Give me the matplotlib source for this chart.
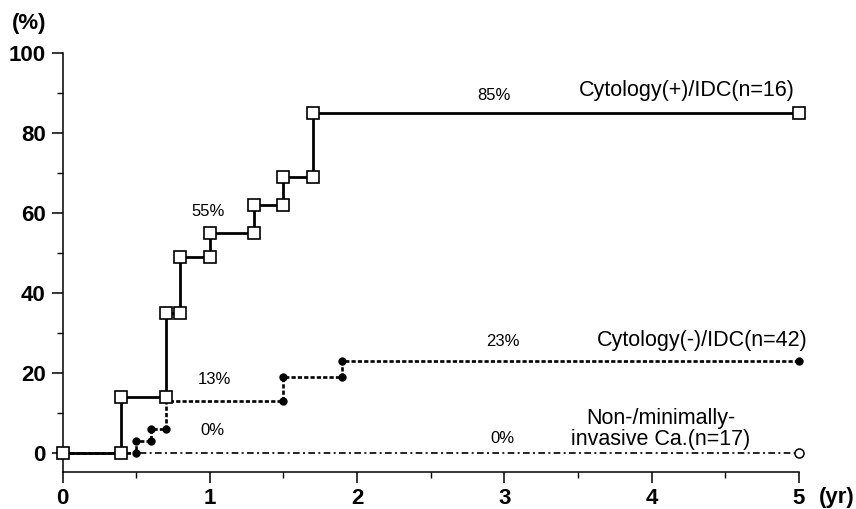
import matplotlib
matplotlib.use("Agg")
import matplotlib.pyplot as plt
from matplotlib.ticker import MultipleLocator

plt.rcParams['font.family'] = ['Liberation Sans', 'DejaVu Sans']

# cumulative incidence (%) step curves, years
pos_t = [0, 0.4, 0.4, 0.7, 0.7, 0.8, 0.8, 1.0, 1.0, 1.3, 1.3, 1.5, 1.5, 1.7, 1.7, 5]
pos_y = [0, 0, 14, 14, 35, 35, 49, 49, 55, 55, 62, 62, 69, 69, 85, 85]

neg_t = [0, 0.5, 0.5, 0.6, 0.6, 0.7, 0.7, 1.5, 1.5, 1.9, 1.9, 5]
neg_y = [0, 0, 3, 3, 6, 6, 13, 13, 19, 19, 23, 23]
neg_marks = [1, 2, 3, 4, 5, 7, 8, 9, 10, 11]

non_t = [0, 5]
non_y = [0, 0]

labels = ["Cytology(+)/IDC(n=16)", "Cytology(-)/IDC(n=42)",
          "Non-/minimally-\ninvasive Ca.(n=17)"]

fig = plt.figure(figsize=(8.56, 5.09), dpi=100)
ax = fig.add_axes([62.5 / 856, 1 - 471.7 / 509, (799 - 62.5) / 856, (471.7 - 53.3) / 509])

ax.plot(non_t, non_y, color='black', lw=1.2, ls=(0, (4, 2, 1.2, 2)), zorder=2, clip_on=False)
ax.plot([5], [0], 'o', ms=6.5, mfc='white', mec='black', mew=1.1, zorder=5, clip_on=False)

ax.plot(neg_t, neg_y, color='black', lw=1.9, ls=(0, (1.6, 0.8)), marker='o', ms=5,
        markevery=neg_marks, mfc='black', mec='black', zorder=3, clip_on=False)

ax.plot(pos_t, pos_y, color='black', lw=2.0, marker='s', ms=8, mfc='white', mec='black',
        mew=1.2, zorder=4, clip_on=False)

ax.set_xlim(0, 5)
ax.set_ylim(-4.7, 100)
for s in ['top', 'right']:
    ax.spines[s].set_visible(False)
for s in ['left', 'bottom']:
    ax.spines[s].set_linewidth(1.1)

ax.xaxis.set_major_locator(MultipleLocator(1))
ax.xaxis.set_minor_locator(MultipleLocator(0.5))
ax.set_yticks([0, 20, 40, 60, 80, 100])
ax.yaxis.set_minor_locator(MultipleLocator(10))
ax.tick_params(which='major', direction='out', length=8, width=1.1, pad=4, labelsize=16)
ax.tick_params(which='minor', direction='out', length=4, width=1.0)
for lab in ax.get_xticklabels() + ax.get_yticklabels():
    lab.set_fontweight('bold')
ax.set_ylim(-4.7, 100)

fig.text(12 / 856, 1 - 23 / 509, "(%)", fontsize=16, fontweight='bold', va='center', ha='left')
fig.text(819 / 856, 1 - 497 / 509, "(yr)", fontsize=16, fontweight='bold', va='center', ha='left')

ax.text(2.93, 89.5, "85%", fontsize=12, ha='center', va='center')
ax.text(0.99, 60.5, "55%", fontsize=12, ha='center', va='center')
ax.text(1.03, 18.3, "13%", fontsize=12, ha='center', va='center')
ax.text(1.02, 5.6, "0%", fontsize=12, ha='center', va='center')
ax.text(2.99, 27.8, "23%", fontsize=12, ha='center', va='center')
ax.text(2.99, 3.7, "0%", fontsize=12, ha='center', va='center')

ax.text(4.24, 90.75, labels[0], fontsize=15.5, ha='center', va='center')
ax.text(4.34, 28.2, labels[1], fontsize=15.5, ha='center', va='center')
ax.text(4.06, 6.0, labels[2], fontsize=15.5, ha='center', va='center', linespacing=1.0)

fig.savefig("out.png", dpi=100)
